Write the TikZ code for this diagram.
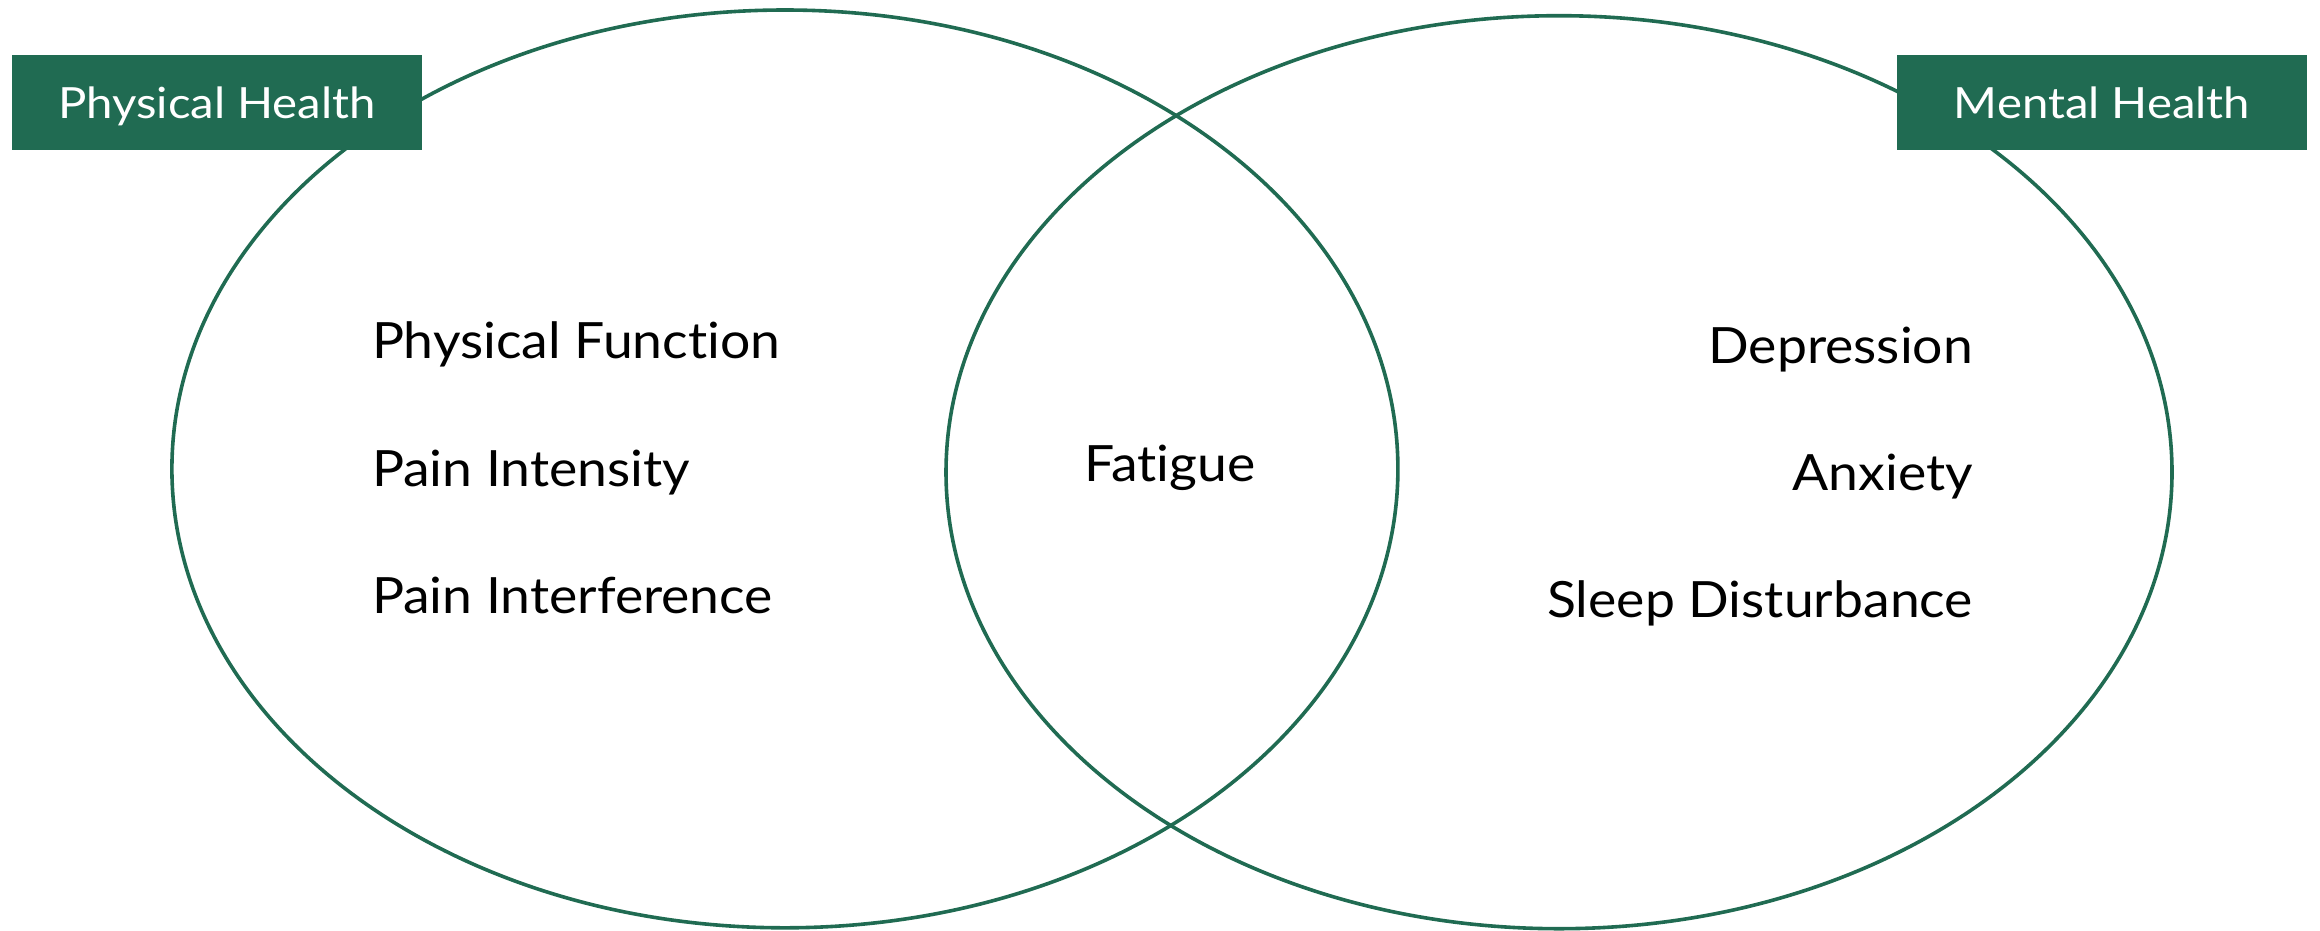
\documentclass[tikz,border=0pt]{standalone}
\usepackage{fontspec}
\setmainfont{Lato}
\newfontfamily\itemfont[FakeStretch=1.07,Ligatures=NoCommon]{Lato}
\newfontfamily\tagfont[FakeStretch=1.10,Ligatures=NoCommon]{Lato}
\usetikzlibrary{shapes.geometric}
\definecolor{vgreen}{HTML}{206B52}
\tikzset{
  venn/.style={ellipse, draw=vgreen, line width=3.6pt, inner sep=0pt, outer sep=0pt},
  tag/.style={fill=vgreen, text=white, inner sep=0pt, outer sep=0pt, minimum width=410pt, minimum height=95pt, text height=31pt, text depth=0pt, font=\tagfont\fontsize{43}{50}\selectfont},
  item/.style={inner sep=0pt, outer sep=0pt, text=black, font=\itemfont\fontsize{50}{58}\selectfont}
}
\begin{document}
\begin{tikzpicture}[x=1pt,y=-1pt]
\useasboundingbox (0,0) rectangle (2320,930);
\node[venn, minimum width=1226pt, minimum height=917.8pt] (left) at (784.9,468.9) {};
\node[venn, minimum width=1226pt, minimum height=913pt] (right) at (1559,472.2) {};
\node[tag] (ph) at (217,102.5) {Physical Health};
\node[tag] (mh) at (2102,102.5) {Mental Health};
\node[item, anchor=base west] (pf) at (372,358) {Physical Function};
\node[item, anchor=base west] (pi) at (372,486) {Pain Intensity};
\node[item, anchor=base west] (pint) at (372,613) {Pain Interference};
\node[item, anchor=base] (fat) at (1170,481) {Fatigue};
\node[item, anchor=base east] (dep) at (1973,363) {Depression};
\node[item, anchor=base east] (anx) at (1973,490) {Anxiety};
\node[item, anchor=base east] (sleep) at (1973,617) {Sleep Disturbance};
\end{tikzpicture}
\end{document}
